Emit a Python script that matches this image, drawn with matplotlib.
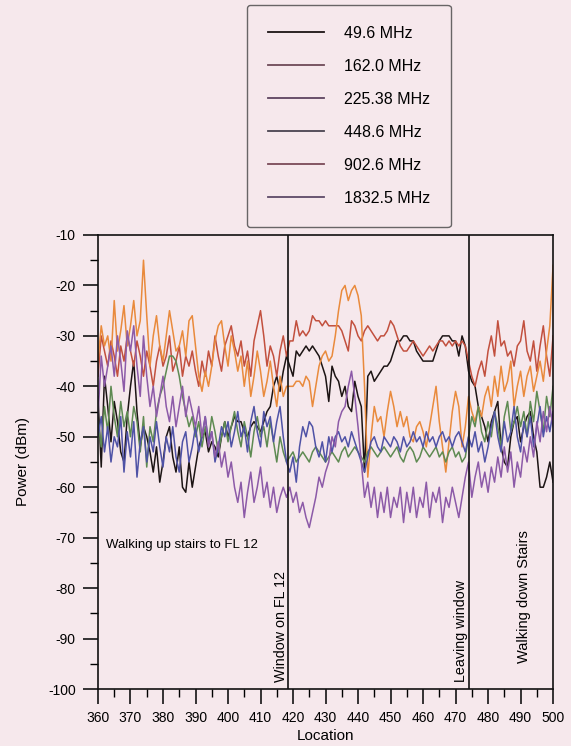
import numpy as np
import matplotlib
matplotlib.use("Agg")
import matplotlib.pyplot as plt
from matplotlib.ticker import MultipleLocator

plt.rcParams['font.family'] = ['Liberation Sans', 'DejaVu Sans']
plt.rcParams['axes.unicode_minus'] = False

# location axis, one sample per unit
location = np.arange(360, 501)

labels = ['49.6 MHz', '162.0 MHz', '225.38 MHz', '448.6 MHz', '902.6 MHz', '1832.5 MHz']

p_49 = [-42, -56, -38, -44, -51, -43, -47, -53, -55, -46,
        -40, -35, -45, -52, -48, -50, -53, -57, -52, -59,
        -55, -50, -48, -54, -57, -52, -60, -61, -55, -60,
        -56, -52, -50, -49, -53, -51, -52, -54, -50, -47,
        -50, -48, -46, -47, -47, -49, -50, -48, -47, -48,
        -49, -47, -45, -44, -40, -38, -41, -37, -34, -36,
        -38, -33, -34, -33, -32, -33, -32, -33, -34, -36,
        -38, -43, -36, -38, -39, -42, -40, -44, -45, -39,
        -42, -44, -57, -38, -37, -39, -38, -37, -36, -36,
        -35, -33, -31, -31, -30, -30, -31, -31, -33, -34,
        -35, -35, -35, -35, -33, -31, -30, -30, -30, -31,
        -31, -34, -30, -32, -37, -39, -40, -44, -46, -48,
        -51, -47, -45, -43, -52, -55, -56, -50, -47, -46,
        -51, -48, -46, -45, -50, -53, -60, -60, -58, -55,
        -59]

p_162 = [-38, -30, -33, -36, -31, -34, -38, -32, -35, -30,
         -33, -36, -31, -34, -38, -33, -36, -40, -35, -32,
         -36, -34, -30, -37, -35, -32, -38, -34, -36, -33,
         -37, -40, -35, -38, -33, -36, -30, -34, -37, -32,
         -30, -28, -32, -34, -31, -36, -33, -38, -31, -28,
         -25, -30, -36, -32, -34, -38, -33, -30, -34, -31,
         -31, -27, -30, -29, -30, -29, -26, -27, -27, -28,
         -27, -28, -28, -28, -28, -29, -31, -33, -27, -28,
         -30, -31, -29, -28, -29, -30, -31, -30, -30, -29,
         -27, -28, -30, -32, -33, -33, -32, -31, -32, -33,
         -34, -33, -32, -33, -32, -31, -31, -32, -31, -32,
         -31, -32, -31, -32, -35, -38, -40, -37, -35, -38,
         -33, -30, -34, -27, -32, -31, -34, -33, -36, -32,
         -31, -27, -33, -35, -31, -37, -32, -28, -34, -38,
         -30]

p_225 = [-35, -28, -32, -30, -35, -23, -33, -29, -24, -32,
         -28, -23, -30, -27, -15, -26, -36, -30, -26, -32,
         -35, -30, -25, -29, -33, -32, -29, -34, -27, -26,
         -32, -38, -41, -37, -40, -36, -31, -28, -27, -32,
         -36, -30, -33, -37, -34, -40, -35, -42, -38, -33,
         -37, -42, -39, -35, -40, -44, -38, -42, -40, -40,
         -40, -39, -39, -40, -38, -39, -44, -40, -36, -34,
         -33, -35, -34, -30, -25, -21, -20, -23, -21, -20,
         -22, -26, -40, -58, -50, -44, -47, -46, -50, -45,
         -41, -44, -48, -45, -48, -46, -50, -51, -48, -47,
         -49, -52, -48, -44, -40, -47, -52, -57, -51, -45,
         -41, -44, -52, -48, -42, -45, -47, -44, -46, -42,
         -40, -44, -38, -42, -36, -41, -39, -35, -44, -40,
         -37, -42, -38, -36, -41, -38, -35, -39, -33, -28,
         -16]

p_448 = [-47, -52, -44, -49, -40, -46, -50, -43, -48, -45,
         -50, -44, -47, -53, -46, -56, -48, -51, -45, -42,
         -40, -37, -34, -34, -35, -38, -42, -45, -48, -46,
         -50, -47, -52, -48, -51, -46, -49, -53, -50, -47,
         -51, -48, -45, -49, -52, -47, -50, -54, -49, -46,
         -50, -48, -52, -47, -51, -55, -50, -53, -55, -54,
         -53, -55, -54, -53, -54, -55, -53, -52, -53, -54,
         -55, -54, -53, -54, -55, -53, -52, -54, -53, -52,
         -53, -54, -55, -53, -52, -53, -54, -53, -52, -53,
         -54, -53, -52, -54, -55, -53, -52, -53, -55, -54,
         -52, -53, -54, -53, -52, -54, -53, -55, -53, -52,
         -54, -53, -55, -54, -50, -46, -48, -44, -49, -51,
         -47, -50, -45, -48, -52, -46, -43, -49, -47, -44,
         -48, -45, -50, -43, -47, -41, -45, -49, -42, -46,
         -40]

p_902 = [-50, -46, -53, -48, -55, -50, -52, -46, -57, -49,
         -54, -47, -58, -51, -48, -55, -50, -53, -47, -52,
         -56, -50, -53, -48, -54, -57, -51, -49, -55, -52,
         -48, -53, -50, -46, -51, -49, -55, -52, -48, -50,
         -47, -52, -49, -45, -50, -48, -53, -47, -44, -49,
         -52, -45, -48, -46, -51, -47, -44, -50, -55, -57,
         -54, -59, -52, -48, -50, -47, -48, -52, -54, -51,
         -55, -50, -53, -50, -49, -51, -50, -52, -49, -51,
         -53, -55, -57, -54, -51, -50, -52, -53, -50, -51,
         -52, -50, -51, -53, -50, -52, -51, -49, -51, -50,
         -52, -49, -51, -50, -52, -50, -49, -51, -50, -52,
         -50, -49, -51, -53, -50, -52, -49, -53, -51, -55,
         -52, -48, -45, -50, -53, -47, -51, -49, -44, -50,
         -53, -47, -50, -46, -52, -48, -44, -50, -46, -49,
         -45]

p_1832 = [-46, -34, -40, -36, -32, -38, -30, -35, -41, -29,
          -33, -28, -36, -42, -30, -38, -44, -40, -46, -42,
          -38, -44, -47, -42, -48, -44, -40, -46, -42, -45,
          -48, -44, -50, -46, -52, -49, -54, -51, -56, -53,
          -58, -55, -60, -63, -59, -66, -61, -57, -63, -60,
          -56, -62, -59, -64, -60, -65, -62, -60, -62, -60,
          -63, -61, -65, -63, -66, -68, -65, -62, -58, -60,
          -57, -55, -50, -52, -47, -45, -44, -40, -37, -42,
          -48, -55, -62, -59, -64, -60, -66, -61, -65, -60,
          -66, -62, -64, -60, -67, -61, -65, -60, -66, -62,
          -64, -59, -66, -61, -63, -60, -67, -62, -64, -60,
          -63, -66, -62, -58, -55, -62, -58, -55, -60, -57,
          -61, -56, -59, -54, -58, -52, -57, -53, -60, -55,
          -58, -52, -55, -50, -54, -47, -51, -45, -49, -44,
          -48]

series = [p_49, p_162, p_225, p_448, p_902, p_1832]
colors = ['#1c1414', '#c2503e', '#e98a3c', '#5e8a52', '#4f52a6', '#8c5aa8']
legend_colors = ['#1c1414', '#6e4a58', '#5e4460', '#4a4450', '#7a4a58', '#5e4a68']

# event markers along the route
events = [418.5, 474]

bg = '#f6e8ec'
fig = plt.figure(figsize=(5.71, 7.46), dpi=100, facecolor=bg)
ax = fig.add_axes([0.1716, 0.0764, 0.797, 0.6086], facecolor=bg)

lines = []
for vals, c in zip(series, colors):
    ln, = ax.plot(location, vals, color=c, lw=1.1)
    lines.append(ln)

for xe in events:
    ax.axvline(xe, color='#111111', lw=1.2)

ax.set_xlim(360, 500)
ax.set_ylim(-100, -10)
ax.xaxis.set_major_locator(MultipleLocator(10))
ax.xaxis.set_minor_locator(MultipleLocator(5))
ax.yaxis.set_major_locator(MultipleLocator(10))
ax.yaxis.set_minor_locator(MultipleLocator(5))
ax.tick_params(which='major', direction='out', length=11, width=1.1, labelsize=10, pad=5)
ax.tick_params(which='minor', direction='out', length=6, width=1.0)
for s in ax.spines.values():
    s.set_linewidth(1.2)
    s.set_color('#111111')

ax.set_xlabel('Location', fontsize=11, labelpad=3)
ax.set_ylabel('Power (dBm)', fontsize=11, labelpad=13)

ax.text(362.5, -71.5, 'Walking up stairs to FL 12', fontsize=9.5, va='center', ha='left')
ax.text(416.3, -98.6, 'Window on FL 12', fontsize=10.3, rotation=90, ha='center', va='bottom')
ax.text(471.8, -98.6, 'Leaving window', fontsize=10.3, rotation=90, ha='center', va='bottom')
ax.text(491.2, -81.6, 'Walking down Stairs', fontsize=10.5, rotation=90, ha='center', va='center')

leg = fig.legend(lines, labels, loc='upper left', bbox_to_anchor=(247 / 571, 1 - 5 / 746),
                 borderaxespad=0, fontsize=11.5, handlelength=3.5, handletextpad=1.25,
                 labelspacing=1.13, borderpad=1.3, fancybox=True, frameon=True,
                 facecolor=bg, edgecolor='#444444')
leg.get_frame().set_linewidth(1.0)
for h, c in zip(leg.legend_handles, legend_colors):
    h.set_color(c)
    h.set_linewidth(1.3)

fig.savefig('out.png', dpi=100, facecolor=bg)
